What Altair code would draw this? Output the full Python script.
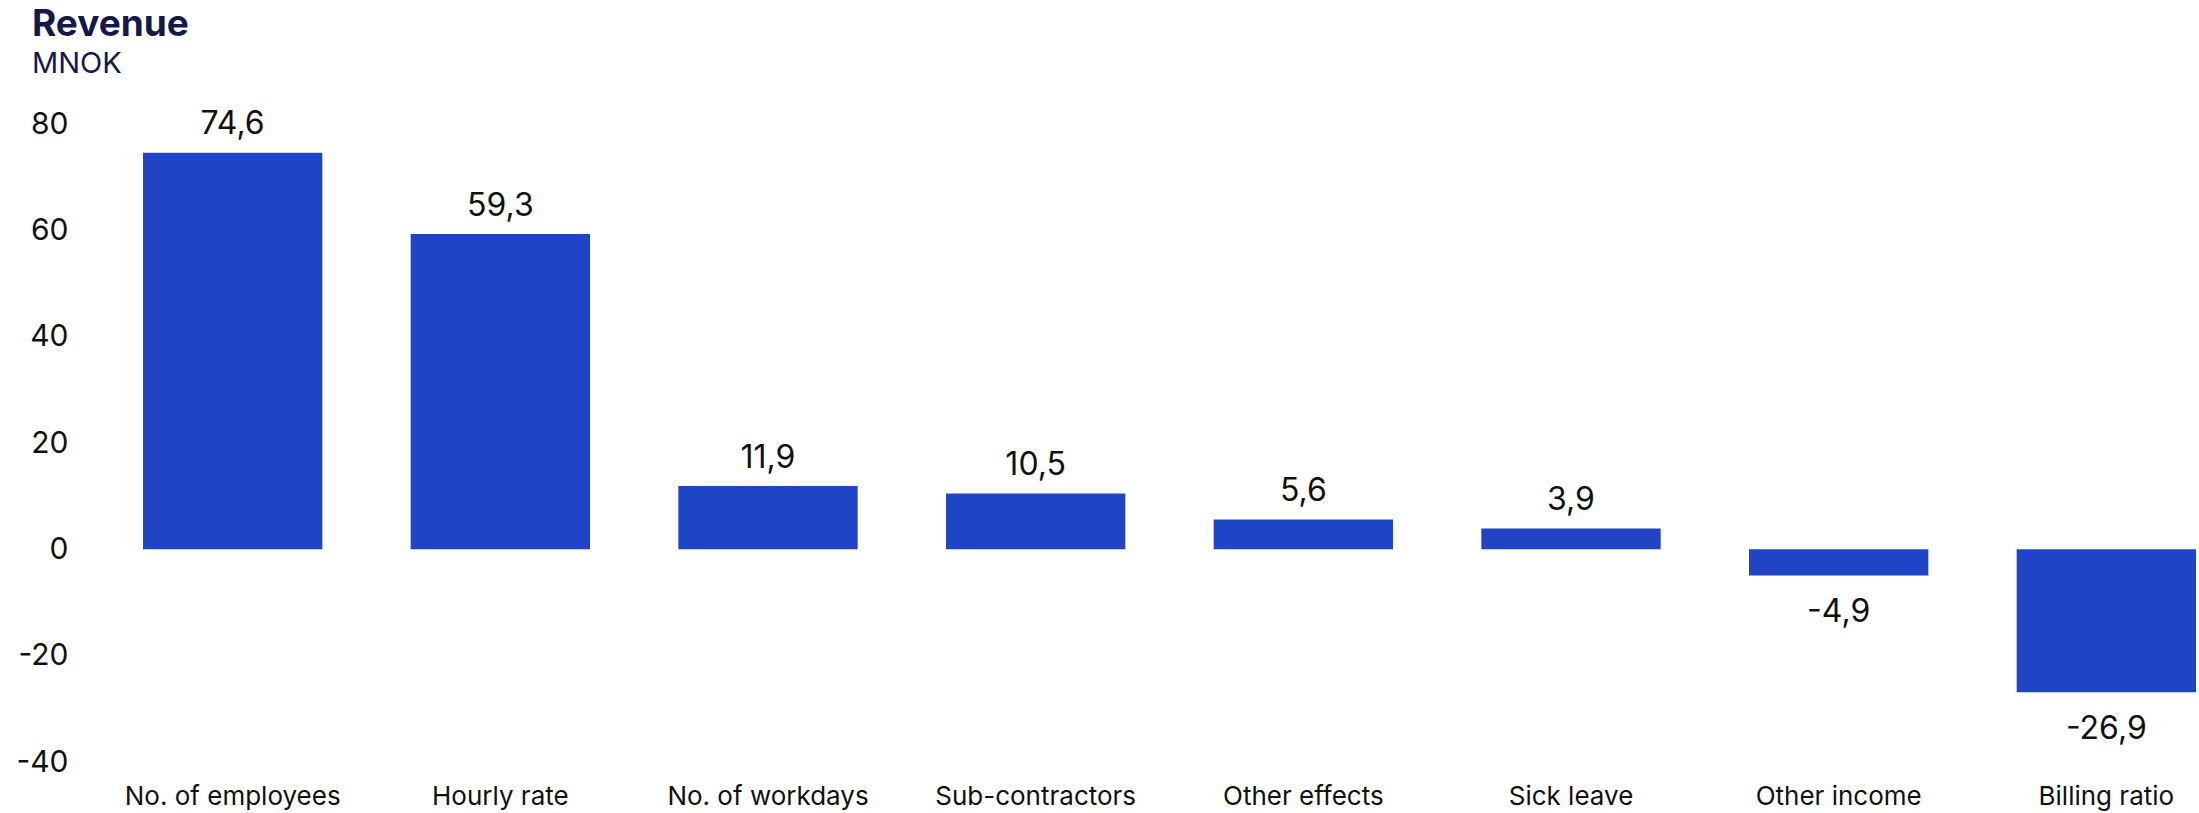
import altair as alt
import pandas as pd

categories = ["No. of employees", "Hourly rate", "No. of workdays", "Sub-contractors",
              "Other effects", "Sick leave", "Other income", "Billing ratio"]
values = [74.6, 59.3, 11.9, 10.5, 5.6, 3.9, -4.9, -26.9]
y_ticks = [-40, -20, 0, 20, 40, 60, 80]

df = pd.DataFrame({"category": categories, "value": values})

BAR = "#1F45C6"
FONT = "Inter"

x_enc = alt.X("category:N", sort=None, title=None,
              scale=alt.Scale(paddingInner=0.33, paddingOuter=0),
              axis=alt.Axis(labelAngle=0, labelFont=FONT, labelFontSize=26, labelColor="#111111",
                            labelPadding=21, labelLimit=0, ticks=False, domain=False, grid=False))
y_enc = alt.Y("value:Q", title=None,
              scale=alt.Scale(domain=[-40, 80], nice=False, zero=False),
              axis=alt.Axis(values=y_ticks, labelExpr="'' + datum.value", labelFont=FONT,
                            labelFontSize=30, labelColor="#111111", labelPadding=75,
                            labelFlush=False, ticks=False, domain=False, grid=False))

base = alt.Chart(df).transform_calculate(
    label="replace(toString(datum.value), '.', ',')"
)

bars = base.mark_bar(color=BAR).encode(x=x_enc, y=y_enc)

pos_text = base.transform_filter("datum.value >= 0").mark_text(
    font=FONT, fontSize=32, color="#111111", baseline="alphabetic", dy=-18.5
).encode(x=alt.X("category:N", sort=None), y="value:Q", text="label:N")

neg_text = base.transform_filter("datum.value < 0").mark_text(
    font=FONT, fontSize=32, color="#111111", baseline="alphabetic", dy=47
).encode(x=alt.X("category:N", sort=None), y="value:Q", text="label:N")

chart = alt.layer(bars, pos_text, neg_text).properties(
    width=2053,
    height=638,
    autosize=alt.AutoSizeParams(type="none"),
    padding={"left": 143, "top": 124, "right": 3, "bottom": 51},
    title=alt.TitleParams(
        text="Revenue", subtitle="MNOK", anchor="start", frame="group", dx=-111,
        font=FONT, fontSize=37, fontWeight="bold", color="#15194A",
        subtitleFont=FONT, subtitleFontSize=29, subtitleColor="#15194A",
        subtitlePadding=6, offset=28,
    ),
).configure_view(stroke=None)

chart.save("out.html", embed_options={"renderer": "svg", "actions": False})
